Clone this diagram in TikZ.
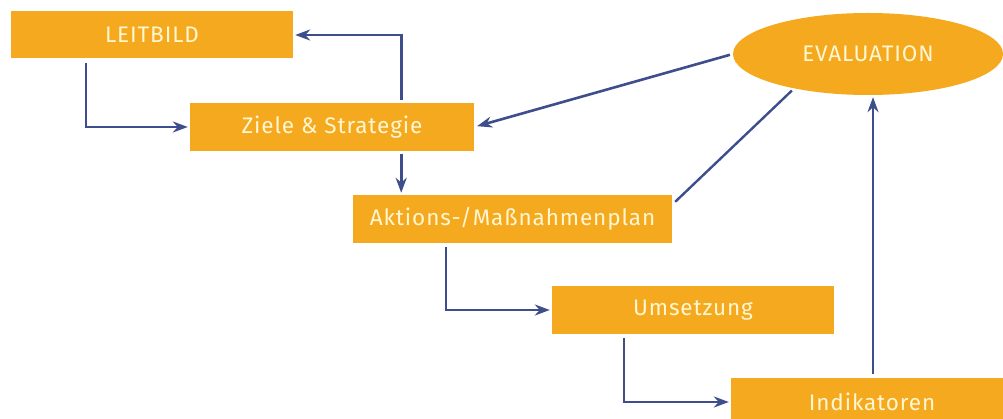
\documentclass[tikz,border=0pt]{standalone}
\usepackage{fontspec}
\setmainfont{Fira Sans}
\newfontfamily\labfont{Fira Sans}[LetterSpace=4]
\usetikzlibrary{arrows.meta,shapes.geometric,calc}
\definecolor{boxorange}{HTML}{F5A91E}
\definecolor{arrowblue}{HTML}{3E4E8C}
\definecolor{labtext}{HTML}{FFF6D2}
\tikzset{
  box/.style={fill=boxorange, draw=none, rectangle, minimum height=48pt, inner sep=0pt,
    text=labtext, font=\labfont\fontsize{22.5}{26}\selectfont},
  evalshape/.style={fill=boxorange, draw=none, ellipse, minimum width=270pt, minimum height=82pt, inner sep=0pt,
    text=labtext, font=\labfont\fontsize{22.5}{26}\selectfont},
  arr/.style={draw=arrowblue, line width=2.6pt, -{Stealth[length=15pt,width=11pt]}},
  plainline/.style={draw=arrowblue, line width=2.4pt}
}
\begin{document}
\begin{tikzpicture}[x=1pt,y=-1pt]
\useasboundingbox (0,0) rectangle (1003,419);
\fill[white] (0,0) rectangle (1003,419);
\node[box, minimum width=282pt, minimum height=47pt] (leit) at (152,35) {LEITBILD};
\node[box, minimum width=284pt] (ziele) at (332,127) {Ziele \& Strategie};
\node[box, minimum width=319pt] (akt) at (512.5,219) {Aktions-/Maßnahmenplan};
\node[box, minimum width=282pt] (ums) at (693,310) {Umsetzung};
\node[box, minimum width=282pt] (ind) at (872,402) {Indikatoren};
\node[evalshape] (eval) at (868,54) {EVALUATION};

\draw[arr, shorten >=2pt] ([xshift=75pt,yshift=-4pt]leit.south west) |- (ziele.west);
\draw[arr, shorten >=2pt] ([xshift=-73pt,yshift=3pt]ziele.north east) |- (leit.east);
\draw[arr, shorten >=2pt] ([xshift=-73pt,yshift=-3pt]ziele.south east) -- ([xshift=-73pt]ziele.south east |- akt.north);
\draw[arr, shorten >=2pt] ([xshift=93pt,yshift=-4pt]akt.south west) |- (ums.west);
\draw[arr, shorten >=2pt] ([xshift=72pt,yshift=-4pt]ums.south west) |- (ind.west);
\draw[arr, shorten <=4pt, shorten >=2pt] ([xshift=1pt]ind.north) -- ([xshift=1pt]ind.north |- eval.south);
\draw[arr, shorten <=3pt, shorten >=3pt] (eval.west) -- (ziele.east);
\draw[plainline, shorten >=3pt] ([xshift=3pt,yshift=-7pt]akt.north east) -- (eval.205);
\end{tikzpicture}
\end{document}
